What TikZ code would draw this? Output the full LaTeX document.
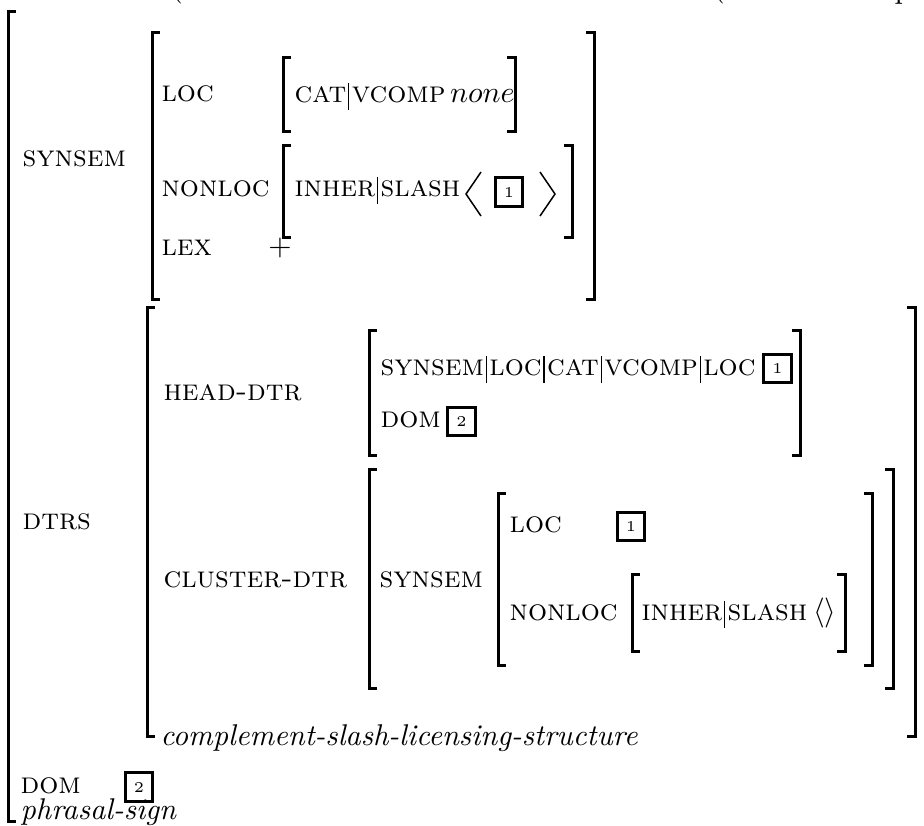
\documentclass[tikz,border=0pt]{standalone}
% path separator between attributes
\newcommand\pbar{\hspace{0.6pt}\vrule height 6.5pt depth 2.5pt width 0.4pt\hspace{0.8pt}}
\begin{document}
\begin{tikzpicture}[x=0.33333pt,y=-0.33333pt,
  brk/.style={line width=1pt},
  attr/.style={anchor=base west,inner sep=0pt,font=\scshape},
  typ/.style={anchor=base west,inner sep=0pt,font=\itshape},
  tag/.style={draw,line width=1pt,minimum width=9.3pt,minimum height=9.6pt,inner sep=0pt,font=\tiny},
  ang/.style={line width=0.5pt}]
\useasboundingbox (0,0) rectangle (924,825);

% left / right bracket: x, top, bottom
\def\lb#1#2#3{\draw[brk] (#1+8,#2) -- (#1,#2) -- (#1,#3) -- (#1+8,#3);}
\def\rb#1#2#3{\draw[brk] (#1-8,#2) -- (#1,#2) -- (#1,#3) -- (#1-8,#3);}

% remains of the line above
\node[anchor=base,inner sep=0pt] (top1) at (177,-3.5) {(};
\node[anchor=base,inner sep=0pt] (top2) at (719,-3.5) {(};
\node[anchor=base,inner sep=0pt] (top3) at (903,-1.5) {p};

% outermost structure
\lb{8}{11}{821}

% SYNSEM
\node[attr] (synsem) at (22,166) {synsem};
\lb{152}{32}{299} \rb{594}{32}{299}
\node[attr] (loc) at (161,101) {loc};
\lb{283}{57}{131} \rb{515}{57}{131}
\node[attr] (catv) at (294,102) {cat\pbar vcomp\hspace{1.5pt}$none$};
\node[attr] (nonloc) at (161,196) {nonloc};
\lb{283}{145}{237} \rb{572}{145}{237}
\node[attr] (inher) at (294,196) {inher\pbar slash};
\draw[ang] (481,172) -- (466,194) -- (481,216);
\node[tag] (t1a) at (509,192) {1};
\draw[ang] (540,172) -- (555,194) -- (540,216);
\node[attr] (lex) at (161,255) {lex};
\node[anchor=base,inner sep=0pt] (plus) at (280,255) {$+$};

% DTRS
\node[attr] (dtrs) at (22,529) {dtrs};
\lb{147}{307}{736} \rb{915}{307}{736}
\node[attr] (hd) at (163,400) {head-dtr};
\lb{369}{330}{455} \rb{800}{330}{455}
\node[attr] (hdpath) at (380,375) {synsem\pbar loc\pbar cat\pbar vcomp\pbar loc};
\node[tag] (t1b) at (777.5,368.5) {1};
\node[attr] (hddom) at (380,427) {dom};
\node[tag] (t2a) at (461.5,421.5) {2};

\node[attr] (cl) at (163,587) {cluster-dtr};
\lb{369}{469}{688} \rb{893}{469}{688}
\node[attr] (clss) at (379,587) {synsem};
\lb{498}{493}{665} \rb{872}{493}{665}
\node[attr] (clloc) at (509,532) {loc};
\node[tag] (t1c) at (631,526.5) {1};
\node[attr] (clnl) at (509,620) {nonloc};
\lb{632}{574}{651} \rb{845}{574}{651}
\node[attr] (clinh) at (641,620) {inher\pbar slash\hspace{2pt}$\langle\rangle$};

\node[typ] (cslt) at (160,745) {complement-slash-licensing-structure};

% DOM and type
\node[attr] (dom) at (20,793) {dom};
\node[tag] (t2b) at (139,787) {2};
\node[typ] (ps) at (20,819) {phrasal-sign};
\end{tikzpicture}
\end{document}
